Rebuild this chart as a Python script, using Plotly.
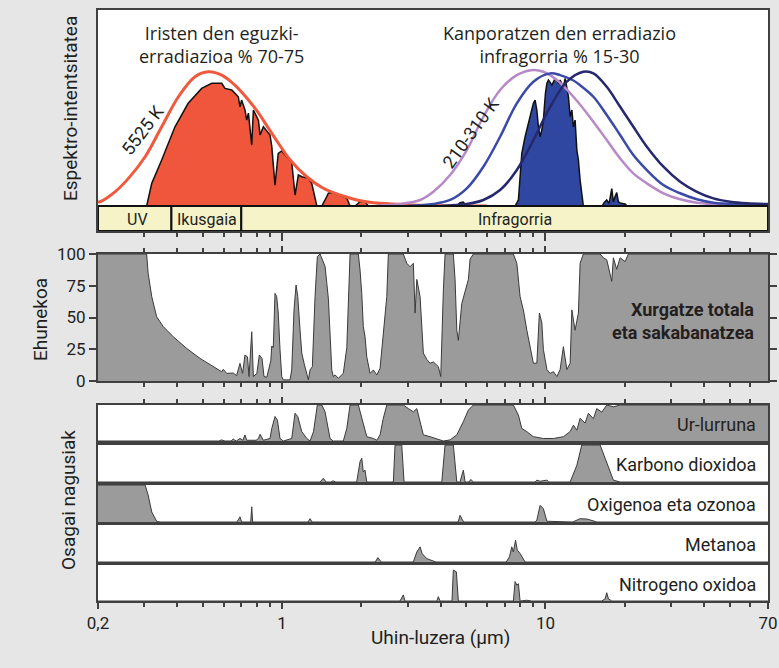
import numpy as np
import plotly.graph_objects as go

# ---------------- axis / category data ----------------
X_RANGE = [0.2, 70]
MAJOR_TICKS = [0.2, 1, 10, 70]
MAJOR_TICK_TEXT = ['0,2', '1', '10', '70']
MINOR_TICKS = [0.3, 0.4, 0.5, 0.6, 0.7, 0.8, 0.9, 2, 3, 4, 5, 6, 7, 8, 9, 20, 30, 40, 50, 60]
PCT_TICKS = [0, 25, 50, 75, 100]

BAND_NAMES = ['UV', 'Ikusgaia', 'Infragorria']
BAND_EDGES = [0.2, 0.38, 0.70, 70]

# ---------------- spectral intensity (top panel, relative units) ----------------
SUN_BB_WL = [0.2, 0.2035, 0.232, 0.261, 0.302, 0.349, 0.404, 0.467, 0.525, 0.590, 0.662,
             0.745, 0.802, 0.926, 1.072, 1.241, 1.434, 1.660, 1.921, 2.221, 2.805, 3.3,
             4.0, 5.0, 6.0]
SUN_BB_I = [0.030, 0.032, 0.106, 0.206, 0.367, 0.590, 0.814, 0.963, 1.0, 0.975, 0.90,
            0.79, 0.71, 0.525, 0.345, 0.218, 0.132, 0.082, 0.045, 0.024, 0.013, 0.006,
            0.002, 0.0, 0.0]

SUN_SURF_WL = [0.306, 0.320, 0.349, 0.392, 0.440, 0.495, 0.541, 0.590, 0.607, 0.644, 0.682,
               0.692, 0.702, 0.723, 0.734, 0.745, 0.767, 0.778, 0.813, 0.825, 0.849, 0.900,
               0.914, 0.940, 0.967, 0.997, 1.088, 1.120, 1.153, 1.188, 1.258, 1.296, 1.355,
               1.415, 1.456, 1.499, 1.544, 1.660, 1.761, 1.812, 1.893, 1.977, 2.065, 2.126,
               2.25, 2.423, 2.57]
SUN_SURF_I = [0.0, 0.169, 0.343, 0.590, 0.765, 0.876, 0.914, 0.914, 0.876, 0.864, 0.814,
              0.739, 0.789, 0.715, 0.640, 0.692, 0.454, 0.715, 0.640, 0.529, 0.590, 0.529,
              0.442, 0.156, 0.392, 0.41, 0.325, 0.082, 0.231, 0.218, 0.206, 0.169, 0.0,
              0.0, 0.045, 0.095, 0.10, 0.075, 0.06, 0.0, 0.0, 0.032, 0.032, 0.0,
              0.0, 0.015, 0.0]

EARTH_OUT_WL = [4.60, 4.74, 4.87, 5.04, 7.670, 7.895, 8.013, 8.133, 8.371, 8.499, 8.745,
                8.999, 9.136, 9.275, 9.403, 9.544, 9.687, 9.821, 10.0, 10.13, 10.27, 10.58,
                10.89, 11.20, 11.37, 11.70, 11.88, 12.23, 12.41, 12.60, 12.77, 12.96, 13.16,
                13.34, 13.54, 13.74, 13.93, 16.41, 16.70, 17.09, 17.45, 17.86, 18.11, 18.39,
                18.65, 18.93, 19.38, 20.07, 20.42]
EARTH_OUT_I = [0.0, 0.025, 0.03, 0.0, 0.0, 0.045, 0.218, 0.392, 0.516, 0.566, 0.665,
               0.765, 0.789, 0.715, 0.590, 0.516, 0.566, 0.640, 0.839, 0.914, 0.938, 0.901,
               0.951, 0.914, 0.938, 0.888, 0.951, 0.814, 0.665, 0.715, 0.590, 0.640, 0.417,
               0.343, 0.194, 0.095, 0.0, 0.0, 0.025, 0.045, 0.02, 0.13, 0.03, 0.07,
               0.10, 0.03, 0.02, 0.015, 0.0]

BB310_WL = [2.3, 2.805, 3.342, 3.753, 4.344, 5.029, 5.812, 6.727, 7.787, 8.999, 9.821, 11.05,
            12.77, 14.78, 17.09, 19.21, 21.57, 24.27, 28.05, 32.47, 37.58, 43.42, 58.18, 70]
BB310_I = [0.003, 0.015, 0.045, 0.106, 0.231, 0.417, 0.665, 0.864, 0.975, 1.013, 1.0, 0.938,
           0.814, 0.66, 0.491, 0.355, 0.243, 0.169, 0.095, 0.050, 0.025, 0.015, 0.005, 0.002]

BB260_WL = [3.0, 3.753, 4.344, 5.029, 5.812, 6.727, 7.787, 8.999, 10.42, 11.37, 12.77, 13.54,
            15.21, 17.09, 19.21, 21.57, 24.27, 28.05, 32.47, 37.58, 43.42, 58.18, 70]
BB260_I = [0.0, 0.015, 0.045, 0.132, 0.293, 0.516, 0.765, 0.926, 0.988, 0.975, 0.935, 0.90,
           0.814, 0.678, 0.529, 0.380, 0.268, 0.156, 0.095, 0.050, 0.025, 0.013, 0.0075]

BB210_WL = [4.0, 5.029, 5.812, 6.727, 7.787, 8.999, 10.42, 12.06, 13.93, 15.21, 17.09, 19.21,
            21.57, 24.27, 28.05, 32.47, 37.58, 43.42, 50.27, 58.18, 70]
BB210_I = [0.0, 0.015, 0.045, 0.119, 0.268, 0.491, 0.739, 0.926, 1.0, 0.988, 0.888, 0.739,
           0.590, 0.442, 0.293, 0.181, 0.106, 0.057, 0.032, 0.020, 0.015]

# ---------------- total absorption and scattering (%) ----------------
TOTAL_WL = [0.2, 0.306, 0.310, 0.320, 0.334, 0.354, 0.386, 0.434, 0.488, 0.548,
            0.590, 0.598, 0.616, 0.652, 0.672, 0.692, 0.708, 0.723, 0.739, 0.749,
            0.767, 0.778, 0.802, 0.820, 0.839, 0.854, 0.875, 0.906, 0.914, 0.926,
            0.940, 0.954, 0.967, 0.982, 0.997, 1.011, 1.072, 1.088, 1.110, 1.130,
            1.147, 1.170, 1.188, 1.212, 1.241, 1.258, 1.277, 1.303, 1.334, 1.361,
            1.394, 1.456, 1.477, 1.499, 1.544, 1.565, 1.589, 1.635, 1.708, 1.761,
            1.812, 1.948, 1.977, 2.007, 2.034, 2.065, 2.097, 2.158, 2.221, 2.289,
            2.355, 2.423, 2.498, 2.532, 2.886, 2.976, 3.062, 3.151, 3.199, 3.248,
            3.342, 3.439, 3.544, 3.647, 3.753, 3.921, 4.004, 4.096, 4.158, 4.470,
            4.538, 4.607, 4.671, 4.812, 4.953, 5.099, 5.175, 5.325, 7.555, 7.787,
            8.013, 8.245, 8.499, 8.745, 8.999, 9.275, 9.485, 9.687, 9.821, 10.13,
            10.42, 10.73, 11.05, 11.37, 11.70, 12.06, 12.41, 12.60, 12.96, 13.34,
            13.54, 13.93, 16.13, 16.60, 17.09, 17.86, 18.11, 18.65, 19.21, 20.07,
            20.65, 70]
TOTAL_PCT = [100, 100, 84.8, 66.4, 50.6, 42.8, 34.9, 25.7, 17.8, 11.3,
             7.3, 9.2, 6.0, 6.3, 4.2, 13.9, 6, 20.5, 19, 3.5,
             38.8, 3.5, 6, 20.5, 17.8, 3.5, 3, 15.9, 27.6, 26.2,
             69, 66.4, 53.5, 24.9, 3.5, 0.9, 0.9, 8.7, 56, 75.6,
             66.4, 40.2, 22, 14, 6, 0.9, 8.7, 11.3, 66.4, 98,
             100, 90.3, 77.8, 64.8, 8.7, 3.5, 4.8, 2.2, 6, 26.2,
             100, 100, 87.5, 69, 43, 35, 19, 6, 8.7, 4.8,
             10, 35, 66.4, 100, 100, 92.7, 90, 92.7, 53.5, 80,
             66.4, 22, 17, 14, 15, 11.3, 3.5, 71.6, 100, 100,
             80, 40, 32, 61, 71.6, 80, 96, 100, 100, 92.7,
             66.4, 56, 40, 27, 14, 14, 53.5, 46, 24.9, 9,
             6, 7.3, 3.5, 9, 27, 9, 14, 56, 40, 53.5,
             92.7, 100, 100, 97, 95.5, 78.5, 97, 88, 97, 94,
             100, 100]

# ---------------- main components (fraction absorbed) ----------------
H2O_WL = [0.2, 0.575, 0.590, 0.607, 0.640, 0.652, 0.670, 0.692, 0.710, 0.723,
          0.734, 0.797, 0.813, 0.825, 0.849, 0.900, 0.914, 0.940, 0.960, 0.982,
          1.011, 1.088, 1.120, 1.147, 1.188, 1.241, 1.277, 1.316, 1.361, 1.415,
          1.456, 1.521, 1.565, 1.708, 1.761, 1.812, 1.948, 2.007, 2.097, 2.221,
          2.289, 2.355, 2.423, 2.498, 2.886, 3.017, 3.151, 3.248, 3.342, 3.439,
          3.647, 3.868, 4.096, 4.344, 4.607, 4.879, 5.099, 5.325, 7.555, 7.895,
          8.133, 8.499, 8.999, 9.821, 10.73, 11.70, 12.41, 12.77, 13.16, 13.54,
          14.15, 14.56, 15.21, 15.67, 16.37, 17.09, 18.11, 19.21, 70]
H2O_VAL = [0, 0, 0.03, 0, 0, 0.05, 0, 0.07, 0.02, 0.17,
           0.02, 0.02, 0.07, 0.185, 0.02, 0.07, 0.35, 0.68, 0.58, 0.07,
           0, 0.07, 0.77, 0.68, 0.26, 0.07, 0, 0.26, 1.0, 1.0,
           0.81, 0.07, 0, 0, 0.35, 1, 1, 0.63, 0.12, 0.07,
           0.02, 0.17, 0.63, 1, 1, 0.9, 0.81, 0.9, 0.54, 0.17,
           0.12, 0.07, 0.0, 0.03, 0.17, 0.54, 0.86, 1, 1, 0.72,
           0.35, 0.26, 0.12, 0.07, 0.07, 0.12, 0.26, 0.44, 0.30, 0.63,
           0.50, 0.77, 0.62, 0.9, 0.8, 1, 0.95, 1, 1]

CO2_WL = [0.2, 1.394, 1.434, 1.47, 1.53, 1.56, 1.60, 1.92, 1.977, 2.007,
          2.034, 2.065, 2.097, 2.645, 2.685, 2.847, 2.905, 4.040, 4.158, 4.470,
          4.607, 4.741, 4.812, 4.879, 4.953, 5.13, 5.21, 5.325, 9.14, 9.275,
          9.544, 10.13, 10.3, 12.41, 13.16, 13.74, 16.13, 17.09, 18.11, 19.21, 70]
CO2_VAL = [0, 0, 0.1, 0, 0, 0.03, 0, 0, 0.55, 0.64,
           0.27, 0.32, 0, 0, 1, 1, 0, 0, 1, 1,
           0, 0, 0.18, 0.32, 0, 0, 0.07, 0, 0, 0.05,
           0.02, 0.05, 0, 0, 0.45, 1, 1, 0.55, 0.05, 0, 0]

O2O3_WL = [0.2, 0.302, 0.310, 0.320, 0.334, 0.344, 0.674, 0.692, 0.702, 0.76,
           0.767, 0.773, 1.255, 1.277, 1.30, 4.66, 4.741, 4.89, 9.14, 9.275,
           9.544, 9.821, 10.13, 12.7, 13.54, 14.4, 15.67, 70]
O2O3_VAL = [1, 1, 0.73, 0.27, 0.02, 0, 0, 0.14, 0, 0,
            0.41, 0, 0, 0.09, 0, 0, 0.18, 0, 0, 0.05,
            0.45, 0.36, 0.02, 0, 0.09, 0.08, 0, 0]

CH4_WL = [0.2, 2.26, 2.31, 2.38, 3.151, 3.248, 3.342, 3.40, 3.544, 3.753,
          3.84, 7.1, 7.30, 7.45, 7.555, 7.70, 7.82, 8.013, 8.37, 70]
CH4_VAL = [0, 0, 0.12, 0, 0, 0.27, 0.41, 0.23, 0.09, 0.02,
           0, 0, 0.14, 0.41, 0.27, 0.59, 0.32, 0.23, 0, 0]

N2O_WL = [0.2, 2.805, 2.886, 2.93, 3.868, 3.92, 3.98, 4.418, 4.470, 4.59,
          4.671, 7.555, 7.67, 7.787, 7.895, 8.013, 8.499, 8.87, 16.37, 16.85,
          17.09, 17.35, 17.86, 70]
N2O_VAL = [0, 0, 0.17, 0, 0, 0.12, 0, 0, 0.86, 0.81,
           0, 0, 0.54, 0.44, 0.48, 0, 0.02, 0, 0, 0.06,
           0.23, 0.06, 0, 0]

COMPONENT_NAMES = ['Ur-lurruna', 'Karbono dioxidoa', 'Oxigenoa eta ozonoa', 'Metanoa', 'Nitrogeno oxidoa']
COMPONENT_DATA = [(H2O_WL, H2O_VAL), (CO2_WL, CO2_VAL), (O2O3_WL, O2O3_VAL),
                  (CH4_WL, CH4_VAL), (N2O_WL, N2O_VAL)]

# ---------------- styling ----------------
FONT = 'Roboto, "Open Sans", sans-serif'
TFONT = '"Open Sans", Roboto, sans-serif'
TXT = '#231f20'
AX = '#404040'
BG = '#e6e6e6'
GRAY_FILL = '#9b9b9b'
GRAY_LINE = '#3a3a3a'
BAND_Y0 = -0.186
TOP_YMAX = 1.46

W, H = 779, 668
ML, MR, MT, MB = 98, 11, 10, 67
PW, PH = W - ML - MR, H - MT - MB


def px_x(px):
    return (px - ML) / PW


def px_y(py):
    return (H - MB - py) / PH


fig = go.Figure()


def area(x, y, xa, ya, fc, lc, lw):
    fig.add_trace(go.Scatter(x=x, y=y, xaxis=xa, yaxis=ya, mode='lines', fill='tozeroy',
                             fillcolor=fc, line=dict(color=lc, width=lw),
                             hoverinfo='skip', showlegend=False))


def curve(x, y, color, width):
    fig.add_trace(go.Scatter(x=x, y=y, xaxis='x', yaxis='y', mode='lines',
                             line=dict(color=color, width=width, shape='spline', smoothing=1.0),
                             hoverinfo='skip', showlegend=False))


# top panel
area(SUN_SURF_WL, SUN_SURF_I, 'x', 'y', '#f0563b', '#111111', 1.5)
area(EARTH_OUT_WL, EARTH_OUT_I, 'x', 'y', '#2f47a0', '#111111', 1.5)
curve(SUN_BB_WL, SUN_BB_I, '#ef5a3e', 3)
curve(BB310_WL, BB310_I, '#b889c8', 2.5)
curve(BB260_WL, BB260_I, '#3b4aa6', 2.5)
curve(BB210_WL, BB210_I, '#26286e', 2.5)

for i, name in enumerate(BAND_NAMES):
    a, b = BAND_EDGES[i], BAND_EDGES[i + 1]
    fig.add_trace(go.Scatter(x=[a, b, b, a, a], y=[BAND_Y0, BAND_Y0, 0, 0, BAND_Y0],
                             xaxis='x', yaxis='y', mode='lines', fill='toself',
                             fillcolor='#f6f3c9', line=dict(color='#111111', width=2),
                             hoverinfo='skip', showlegend=False))

# middle panel
area(TOTAL_WL, TOTAL_PCT, 'x2', 'y2', GRAY_FILL, GRAY_LINE, 1)

# component panels
for k, (wl, val) in enumerate(COMPONENT_DATA):
    area(wl, val, 'x%d' % (k + 3), 'y%d' % (k + 3), GRAY_FILL, GRAY_LINE, 1)

# ---------------- axes ----------------
log_range = [np.log10(X_RANGE[0]), np.log10(X_RANGE[1])]


def xaxis(anchor, ticks=True, side='bottom', labels=False, mirror=True, major_len=7):
    d = dict(type='log', range=log_range, anchor=anchor, domain=[0, 1], side=side,
             showgrid=False, zeroline=False, showline=True, linecolor=AX, linewidth=2,
             mirror=mirror, fixedrange=True, showticklabels=labels, automargin=False,
             tickfont=dict(family=FONT, size=17, color=TXT))
    if ticks:
        if labels:
            d.update(tickmode='array', tickvals=MAJOR_TICKS, ticktext=MAJOR_TICK_TEXT)
        else:
            d.update(tickmode='array', tickvals=[1, 10])
        d.update(ticks='outside', ticklen=major_len, tickwidth=1.5, tickcolor=AX,
                 minor=dict(tickmode='array', tickvals=MINOR_TICKS, ticks='outside',
                            ticklen=4, tickwidth=1.5, tickcolor=AX))
    else:
        d.update(ticks='', tickvals=[])
    return d


def yaxis(domain, rng, **kw):
    d = dict(domain=domain, range=rng, showgrid=False, zeroline=False, showline=True,
             linecolor=AX, linewidth=2, mirror=True, fixedrange=True, automargin=False,
             showticklabels=False, ticks='')
    d.update(kw)
    return d


comp_domains = [(405, 441), (445, 482), (485, 522), (525, 562), (565, 601)]

layout = dict(
    width=W, height=H, autosize=False,
    margin=dict(l=ML, r=MR, t=MT, b=MB, pad=0, autoexpand=False),
    paper_bgcolor=BG, plot_bgcolor='#ffffff',
    font=dict(family=FONT, color=TXT),
    showlegend=False,
    xaxis=xaxis('y', major_len=8),
    yaxis=yaxis([px_y(231), px_y(10)], [BAND_Y0, TOP_YMAX]),
    xaxis2=xaxis('y2', mirror='ticks', major_len=6),
    yaxis2=yaxis([px_y(381), px_y(254)], [0, 100], showticklabels=True, ticks='outside',
                 tickmode='array', tickvals=PCT_TICKS, ticklen=7, tickwidth=1.5,
                 tickcolor=AX, mirror='ticks',
                 tickfont=dict(family=FONT, size=17, color=TXT)),
)
for k, (t, b) in enumerate(comp_domains):
    n = k + 3
    if k == 0:
        xa = xaxis('y%d' % n, side='top', major_len=6)
    elif k == 4:
        xa = xaxis('y%d' % n, labels=True, major_len=6)
    else:
        xa = xaxis('y%d' % n, ticks=False)
    layout['xaxis%d' % n] = xa
    layout['yaxis%d' % n] = yaxis([px_y(b), px_y(t)], [0, 1])

fig.update_layout(**layout)

# ---------------- text ----------------
ann = []


def text(s, px, py, size, xanchor='center', angle=0, bold=False, family=FONT):
    ann.append(dict(text=('<b>%s</b>' % s) if bold else s, x=px_x(px), y=px_y(py),
                    xref='paper', yref='paper', showarrow=False, xanchor=xanchor,
                    yanchor='middle', textangle=angle, align=xanchor if xanchor != 'center' else 'center',
                    font=dict(family=family, size=size, color=TXT)))


text('Iristen den eguzki-<br>erradiazioa % 70-75', 221, 44, 18, family=TFONT)
text('Kanporatzen den erradiazio<br>infragorria % 15-30', 559, 44, 18, family=TFONT)
text('5525 K', 142, 130, 18, angle=-53)
text('210-310 K', 471, 133, 18, angle=-54)
text(BAND_NAMES[0], 137, 219, 16)
text(BAND_NAMES[1], 207, 219, 16)
text(BAND_NAMES[2], 515, 219, 16)
text('Xurgatze totala<br>eta sakabanatzea', 756, 321, 18, xanchor='right', bold=True)
for name, (t, b) in zip(COMPONENT_NAMES, comp_domains):
    text(name, 758, (t + b) / 2 + 1, 18, xanchor='right')
text('Espektro-intentsitatea', 71, 109, 19, angle=-90)
text('Ehunekoa', 40, 319, 19, angle=-90)
text('Osagai nagusiak', 68, 500, 19, angle=-90)
text('Uhin-luzera (µm)', 440, 637, 19)

fig.update_layout(annotations=ann)
fig.write_html('out.html',
               config={'displayModeBar': False},
               post_script="document.body.style.margin='0px';"
                           "document.body.style.padding='0px';"
                           "document.body.style.background='%s';"
                           "document.documentElement.style.overflow='hidden';" % BG)
